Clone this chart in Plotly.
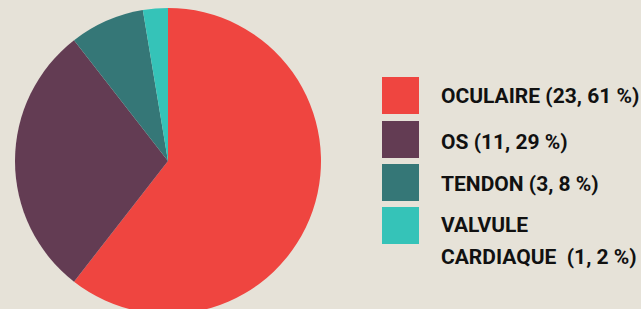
import plotly.graph_objects as go

categories = ["OCULAIRE", "OS", "TENDON", "VALVULE CARDIAQUE"]
values = [23, 11, 3, 1]
percents = [61, 29, 8, 2]
colors = ["#EF4540", "#633C53", "#357777", "#35C3B8"]

W, H = 641, 320  # taller than the 309 viewport so the pie is cut at the bottom like the reference
BG = "#E6E2D8"

def px(x):
    return x / W

def py(y):
    return 1 - y / H

cx, cy, r = 168, 161, 153
fig = go.Figure(go.Pie(
    values=values,
    labels=categories,
    sort=False,
    direction="clockwise",
    rotation=0,
    marker=dict(colors=colors, line=dict(width=0)),
    textinfo="none",
    hoverinfo="skip",
    showlegend=False,
    domain=dict(x=[px(cx - r), px(cx + r)], y=[py(cy + r), py(cy - r)]),
))

FONT = dict(family="Roboto, Liberation Sans, sans-serif", size=21, color="#111111", weight=700)

shapes = []
annotations = []
sq_top = [77, 121, 164, 207]
text_cy = [96.5, 141.5, 184, 225]
for i, (cat, v, p) in enumerate(zip(categories, values, percents)):
    y0 = sq_top[i]
    shapes.append(dict(type="rect", xref="paper", yref="paper",
                       x0=px(382), x1=px(419), y0=py(y0 + 37), y1=py(y0),
                       fillcolor=colors[i], line=dict(width=0)))
    suffix = f"({v}, {p} %)"
    if " " in cat:
        first, second = cat.split(" ", 1)
        lines = [first, f"{second}\u00a0 {suffix}"]
    else:
        lines = [f"{cat} {suffix}"]
    for j, line in enumerate(lines):
        annotations.append(dict(xref="paper", yref="paper", x=px(439), y=py(text_cy[i] + 32 * j),
                                xanchor="left", yanchor="middle", align="left",
                                showarrow=False, text=line, font=FONT))

fig.update_layout(
    width=W, height=H,
    margin=dict(l=0, r=0, t=0, b=0),
    paper_bgcolor=BG, plot_bgcolor=BG,
    shapes=shapes, annotations=annotations,
)
fig.write_html(
    "out.html",
    config={"displayModeBar": False},
    post_script="document.body.style.margin='0';document.body.style.overflow='hidden';"
                "document.body.style.background='#E6E2D8';",
)
